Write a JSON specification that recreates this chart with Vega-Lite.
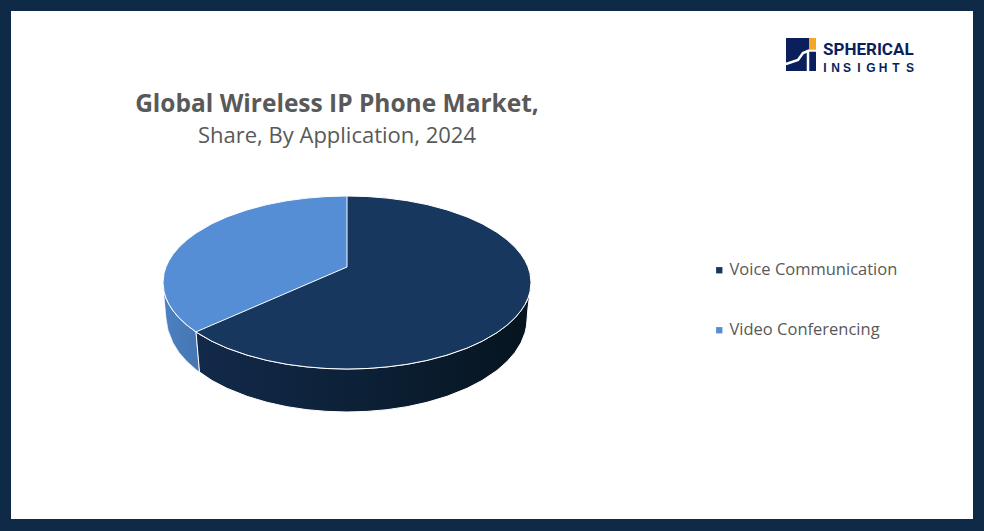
{"$schema":"https://vega.github.io/schema/vega-lite/v6.json","width":962,"height":508,"autosize":{"type":"none"},"padding":{"left":11,"top":11,"right":11,"bottom":12},"background":"#0f2a47","view":{"fill":"white","stroke":null},
"title":{"text":"Global Wireless IP Phone Market,","subtitle":"Share, By Application, 2024","anchor":"middle","frame":"group","dx":-155,"dy":141,"font":"Open Sans","fontWeight":"bold","fontSize":24.5,"color":"#595959","subtitleFont":"Open Sans","subtitleFontSize":22,"subtitleColor":"#595959","subtitleFontWeight":"normal","subtitlePadding":9},
"config":{"axis":{"domain":false,"grid":false,"ticks":false,"labels":false,"title":null}},
"datasets":{
"videoTop":[{"Application":"Video Conferencing","x":163,"y":282.5,"y2":282.5},{"Application":"Video Conferencing","x":164,"y":273.5,"y2":291.5},{"Application":"Video Conferencing","x":166,"y":266.9,"y2":298.1},{"Application":"Video Conferencing","x":169,"y":260.6,"y2":304.4},{"Application":"Video Conferencing","x":173,"y":254.4,"y2":310.6},{"Application":"Video Conferencing","x":179,"y":247.2,"y2":317.8},{"Application":"Video Conferencing","x":187,"y":239.8,"y2":325.2},{"Application":"Video Conferencing","x":196,"y":233.1,"y2":331.9},{"Application":"Video Conferencing","x":212,"y":223.7,"y2":325},{"Application":"Video Conferencing","x":227,"y":216.9,"y2":318.6},{"Application":"Video Conferencing","x":247,"y":209.9,"y2":310},{"Application":"Video Conferencing","x":267,"y":204.6,"y2":301.4},{"Application":"Video Conferencing","x":287,"y":200.7,"y2":292.8},{"Application":"Video Conferencing","x":307,"y":198.1,"y2":284.2},{"Application":"Video Conferencing","x":327,"y":196.5,"y2":275.6},{"Application":"Video Conferencing","x":347,"y":196,"y2":267}],
"voiceTop":[{"Application":"Voice Communication","x":163,"y":282.5,"y2":282.5},{"Application":"Voice Communication","x":164,"y":273.5,"y2":291.5},{"Application":"Voice Communication","x":166,"y":266.9,"y2":298.1},{"Application":"Voice Communication","x":169,"y":260.6,"y2":304.4},{"Application":"Voice Communication","x":173,"y":254.4,"y2":310.6},{"Application":"Voice Communication","x":179,"y":247.2,"y2":317.8},{"Application":"Voice Communication","x":187,"y":239.8,"y2":325.2},{"Application":"Voice Communication","x":197,"y":232.4,"y2":332.6},{"Application":"Voice Communication","x":212,"y":223.7,"y2":341.3},{"Application":"Voice Communication","x":227,"y":216.9,"y2":348.1},{"Application":"Voice Communication","x":247,"y":209.9,"y2":355.1},{"Application":"Voice Communication","x":267,"y":204.6,"y2":360.4},{"Application":"Voice Communication","x":287,"y":200.7,"y2":364.3},{"Application":"Voice Communication","x":307,"y":198.1,"y2":366.9},{"Application":"Voice Communication","x":327,"y":196.5,"y2":368.5},{"Application":"Voice Communication","x":347,"y":196,"y2":369},{"Application":"Voice Communication","x":367,"y":196.5,"y2":368.5},{"Application":"Voice Communication","x":387,"y":198.1,"y2":366.9},{"Application":"Voice Communication","x":407,"y":200.7,"y2":364.3},{"Application":"Voice Communication","x":427,"y":204.6,"y2":360.4},{"Application":"Voice Communication","x":447,"y":209.9,"y2":355.1},{"Application":"Voice Communication","x":467,"y":216.9,"y2":348.1},{"Application":"Voice Communication","x":482,"y":223.7,"y2":341.3},{"Application":"Voice Communication","x":497,"y":232.4,"y2":332.6},{"Application":"Voice Communication","x":507,"y":239.8,"y2":325.2},{"Application":"Voice Communication","x":515,"y":247.2,"y2":317.8},{"Application":"Voice Communication","x":521,"y":254.4,"y2":310.6},{"Application":"Voice Communication","x":525,"y":260.6,"y2":304.4},{"Application":"Voice Communication","x":528,"y":266.9,"y2":298.1},{"Application":"Voice Communication","x":530,"y":273.5,"y2":291.5},{"Application":"Voice Communication","x":531,"y":282.5,"y2":282.5}],
"videoSide":[{"x":164,"y":291.5,"y2":296},{"x":166,"y":298.1,"y2":318},{"x":168,"y":302,"y2":330},{"x":173,"y":310.6,"y2":342.8},{"x":179,"y":317.8,"y2":352.4},{"x":187,"y":325.2,"y2":361.6},{"x":196,"y":331.9,"y2":369.6},{"x":198,"y":354.9,"y2":371},{"x":199.5,"y":372,"y2":372}],
"voiceSide":[{"x":196,"y":331.9,"y2":331.9},{"x":198,"y":333.2,"y2":354.9},{"x":199.5,"y":334.3,"y2":372},{"x":212,"y":341.3,"y2":380.5},{"x":227,"y":348.1,"y2":388.3},{"x":247,"y":355.1,"y2":396.3},{"x":267,"y":360.4,"y2":402.3},{"x":287,"y":364.3,"y2":406.7},{"x":307,"y":366.9,"y2":409.7},{"x":327,"y":368.5,"y2":411.4},{"x":347,"y":369,"y2":412},{"x":367,"y":368.5,"y2":411.4},{"x":387,"y":366.9,"y2":409.7},{"x":407,"y":364.3,"y2":406.7},{"x":427,"y":360.4,"y2":402.3},{"x":447,"y":355.1,"y2":396.3},{"x":467,"y":348.1,"y2":388.3},{"x":482,"y":341.3,"y2":380.5},{"x":497,"y":332.6,"y2":370.4},{"x":507,"y":325.2,"y2":361.6},{"x":515,"y":317.8,"y2":352.4},{"x":521,"y":310.6,"y2":342.8},{"x":525,"y":304.4,"y2":332.8},{"x":526.5,"y":302,"y2":326},{"x":528,"y":298.1,"y2":308},{"x":529.5,"y":294.5,"y2":296}]
},
"layer":[
{"data":{"name":"videoSide"},"mark":{"type":"area","color":{"gradient":"linear","x1":0,"y1":0,"x2":1,"y2":0,"stops":[{"offset":0,"color":"#4a80c2"},{"offset":1,"color":"#4676b2"}]},"stroke":"#ffffff","strokeWidth":0.6},"encoding":{"x":{"field":"x","type":"quantitative","scale":{"domain":[11,973]},"axis":null},"y":{"field":"y","type":"quantitative","scale":{"domain":[519,11]},"axis":null},"y2":{"field":"y2"}}},
{"data":{"name":"voiceSide"},"mark":{"type":"area","color":{"gradient":"linear","x1":0,"y1":0,"x2":1,"y2":0,"stops":[{"offset":0,"color":"#12294a"},{"offset":0.5,"color":"#0c2036"},{"offset":1,"color":"#06141f"}]},"stroke":"#ffffff","strokeWidth":1},"encoding":{"x":{"field":"x","type":"quantitative","scale":{"domain":[11,973]},"axis":null},"y":{"field":"y","type":"quantitative","scale":{"domain":[519,11]},"axis":null},"y2":{"field":"y2"}}},
{"data":{"name":"voiceTop"},"mark":{"type":"area","stroke":"#ffffff","strokeWidth":1},"encoding":{"x":{"field":"x","type":"quantitative","scale":{"domain":[11,973]},"axis":null},"y":{"field":"y","type":"quantitative","scale":{"domain":[519,11]},"axis":null},"y2":{"field":"y2"},"color":{"field":"Application","type":"nominal","scale":{"domain":["Voice Communication","Video Conferencing"],"range":["#17375e","#558ed5"]},"legend":{"title":null,"orient":"none","legendX":700,"legendY":251,"symbolType":"square","symbolSize":40,"symbolStrokeWidth":0,"labelFont":"Open Sans","labelFontSize":16.5,"labelColor":"#595959","rowPadding":43,"labelOffset":2,"labelLimit":300}}}},
{"data":{"name":"videoTop"},"mark":{"type":"area","stroke":"#ffffff","strokeWidth":1},"encoding":{"x":{"field":"x","type":"quantitative","scale":{"domain":[11,973]},"axis":null},"y":{"field":"y","type":"quantitative","scale":{"domain":[519,11]},"axis":null},"y2":{"field":"y2"},"color":{"field":"Application","type":"nominal"}}},
{"data":{"values":[{"part":"square","x":786,"x2":816,"y":38,"y2":71}]},"mark":{"type":"rect","color":"#0a1f5c"},"encoding":{"x":{"field":"x","type":"quantitative","scale":{"domain":[11,973]},"axis":null},"x2":{"field":"x2"},"y":{"field":"y","type":"quantitative","scale":{"domain":[519,11]},"axis":null},"y2":{"field":"y2"}}},
{"data":{"values":[{"part":"corner","x":809,"x2":816,"y":38,"y2":49}]},"mark":{"type":"rect","color":"#f5a623"},"encoding":{"x":{"field":"x","type":"quantitative","scale":{"domain":[11,973]},"axis":null},"x2":{"field":"x2"},"y":{"field":"y","type":"quantitative","scale":{"domain":[519,11]},"axis":null},"y2":{"field":"y2"}}},
{"data":{"values":[{"s":"wave","o":1,"x":786,"y":64},{"s":"wave","o":2,"x":798,"y":60},{"s":"wave","o":3,"x":803,"y":53},{"s":"wave","o":4,"x":809,"y":50.5},{"s":"wave","o":5,"x":816,"y":50.5},{"s":"bar","o":1,"x":808,"y":50},{"s":"bar","o":2,"x":808,"y":71}]},"mark":{"type":"line","color":"#ffffff","strokeWidth":2.5},"encoding":{"x":{"field":"x","type":"quantitative","scale":{"domain":[11,973]},"axis":null},"y":{"field":"y","type":"quantitative","scale":{"domain":[519,11]},"axis":null},"detail":{"field":"s"},"order":{"field":"o"}}},
{"data":{"values":[{"t":"SPHERICAL","x":823,"y":55}]},"mark":{"type":"text","font":"Roboto","fontWeight":"bold","fontSize":17,"color":"#0a1f5c","align":"left","baseline":"alphabetic"},"encoding":{"x":{"field":"x","type":"quantitative","scale":{"domain":[11,973]},"axis":null},"y":{"field":"y","type":"quantitative","scale":{"domain":[519,11]},"axis":null},"text":{"field":"t"}}},
{"data":{"values":[{"t":"I","x":825,"y":72},{"t":"N","x":835.7,"y":72},{"t":"S","x":847,"y":72},{"t":"I","x":859,"y":72},{"t":"G","x":871,"y":72},{"t":"H","x":883,"y":72},{"t":"T","x":896,"y":72},{"t":"S","x":910,"y":72}]},"mark":{"type":"text","font":"Liberation Sans","fontWeight":"bold","fontSize":12,"color":"#0a1f5c","align":"center","baseline":"alphabetic"},"encoding":{"x":{"field":"x","type":"quantitative","scale":{"domain":[11,973]},"axis":null},"y":{"field":"y","type":"quantitative","scale":{"domain":[519,11]},"axis":null},"text":{"field":"t"}}}
]}
